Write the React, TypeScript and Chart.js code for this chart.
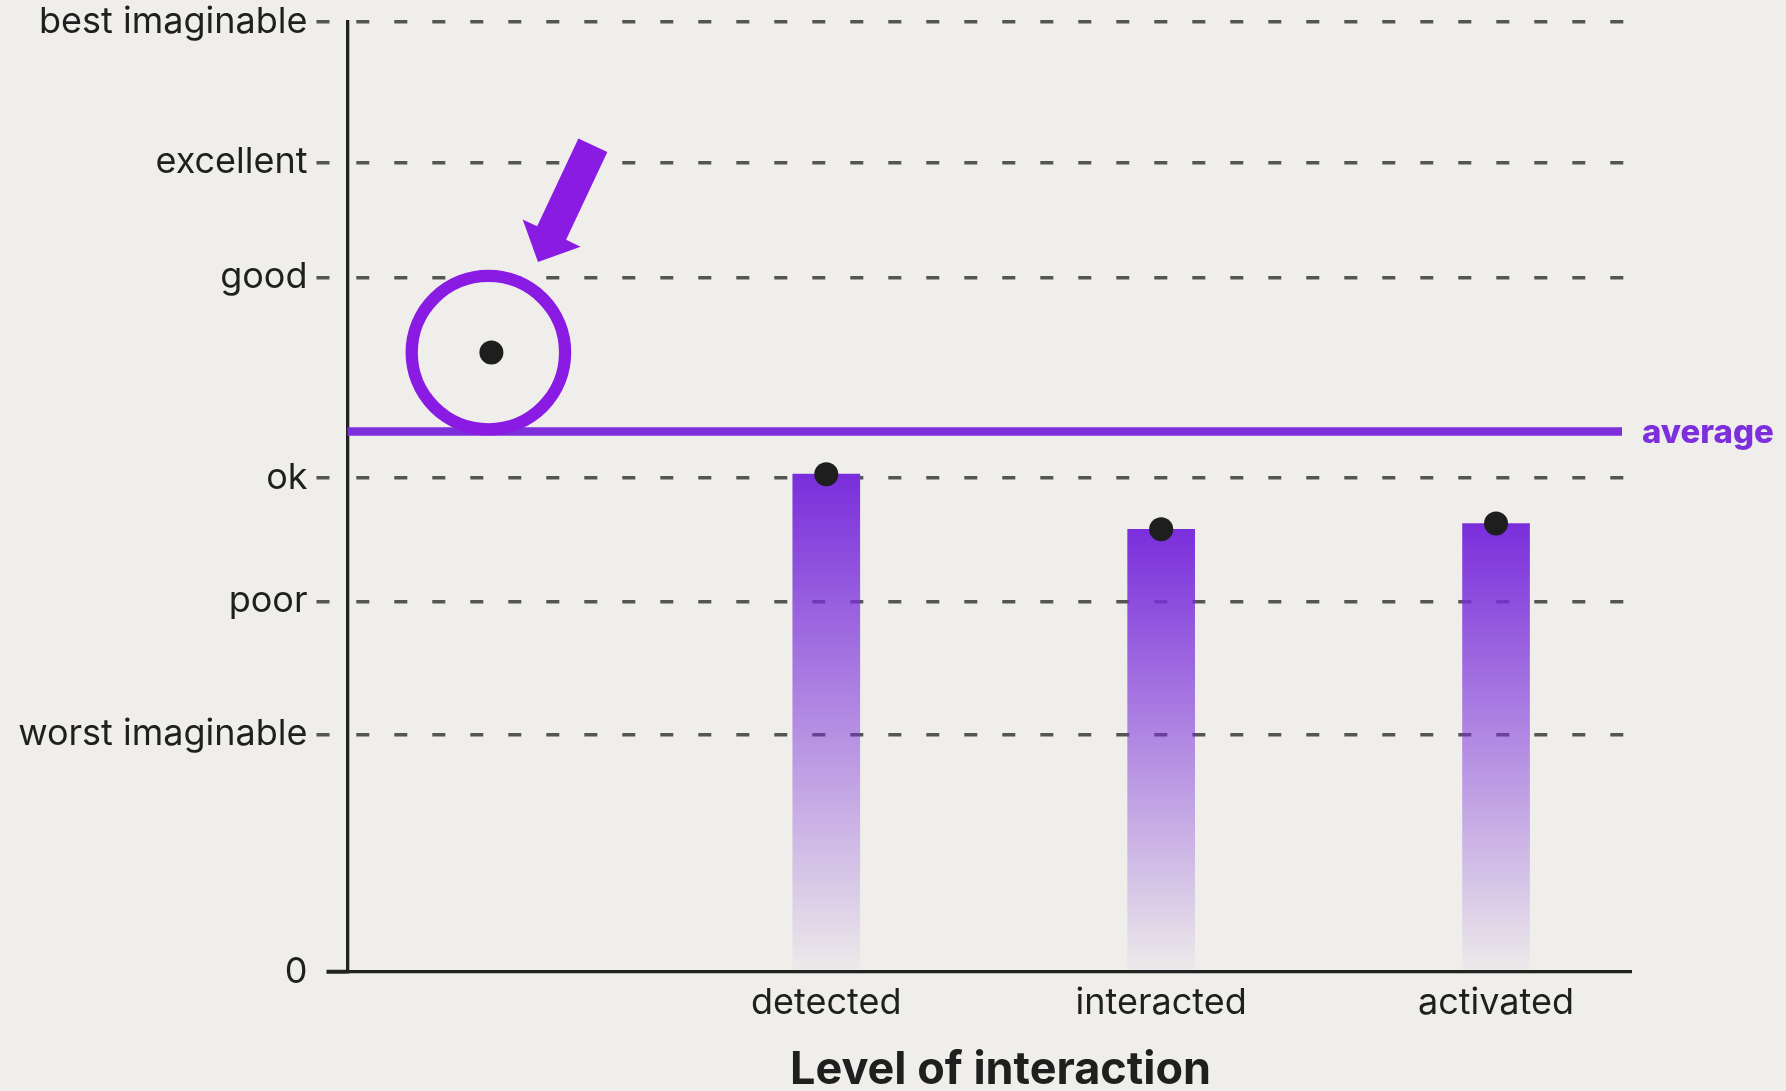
import React, { useEffect, useRef } from 'react';
import { Chart, registerables } from 'chart.js';

Chart.register(...registerables);

// ---- data ----
const categories = ['', 'detected', 'interacted', 'activated'];
const categoryPositions = [0, 1, 2, 3];
const scores = [65.2, 52.4, 46.6, 47.2];
const barScores = [null, 52.4, 46.6, 47.2];
const averageScore = 56.9;
const adjectiveValues = [0, 25, 39, 52, 73.1, 85.2, 100];
const adjectiveLabels = ['0', 'worst imaginable', 'poor', 'ok', 'good', 'excellent', 'best imaginable'];
const highlightIndex = 0;
const axisTitle = 'Level of interaction';
const averageLabel = 'average';

// ---- styles ----
const BG = '#EFEEEA';
const TEXT = '#1f1f1f';
const GRID = '#555555';
const AXIS = '#222222';
const BAR_RGB = '122,46,219';
const AVG_COLOR = '#7E2FDC';
const RING_COLOR = '#8A1BE2';
const DOT = '#1e1e1e';
const FONT = 'Inter';

const bgPlugin = {
  id: 'bgFill',
  beforeDraw(chart: any) {
    const { ctx, width, height } = chart;
    ctx.save();
    ctx.fillStyle = BG;
    ctx.fillRect(0, 0, width, height);
    ctx.restore();
  },
};

const annotationPlugin = {
  id: 'annotations',
  afterDatasetsDraw(chart: any) {
    const { ctx, chartArea } = chart;
    const xs = chart.scales.x;
    const ys = chart.scales.y;
    const ya = ys.getPixelForValue(averageScore);
    ctx.save();
    // average line
    ctx.strokeStyle = AVG_COLOR;
    ctx.lineWidth = 8.5;
    ctx.beginPath();
    ctx.moveTo(chartArea.left, ya);
    ctx.lineTo(chartArea.right - 9, ya);
    ctx.stroke();
    // average label
    ctx.fillStyle = AVG_COLOR;
    ctx.font = `800 33px ${FONT}`;
    ctx.textBaseline = 'middle';
    ctx.textAlign = 'left';
    ctx.fillText(averageLabel, chartArea.right + 11, ya + 2);

    // ring around highlighted point
    const px = xs.getPixelForValue(categoryPositions[highlightIndex]);
    const py = ys.getPixelForValue(scores[highlightIndex]);
    ctx.strokeStyle = RING_COLOR;
    ctx.lineWidth = 12.3;
    ctx.beginPath();
    ctx.arc(px - 3, py, 76.7, 0, Math.PI * 2);
    ctx.stroke();

    // arrow pointing at the ring
    const tip = { x: px + 46.6, y: py - 90.6 };
    const d = { x: -0.4255, y: 0.9046 };
    const n = { x: 0.9046, y: 0.4255 };
    const headLen = 32, headHalf = 32, shaftHalf = 16, total = 129;
    const base = { x: tip.x - d.x * headLen, y: tip.y - d.y * headLen };
    const tail = { x: tip.x - d.x * total, y: tip.y - d.y * total };
    const pts = [
      [tail.x + n.x * shaftHalf, tail.y + n.y * shaftHalf],
      [base.x + n.x * shaftHalf, base.y + n.y * shaftHalf],
      [base.x + n.x * headHalf, base.y + n.y * headHalf],
      [tip.x, tip.y],
      [base.x - n.x * headHalf, base.y - n.y * headHalf],
      [base.x - n.x * shaftHalf, base.y - n.y * shaftHalf],
      [tail.x - n.x * shaftHalf, tail.y - n.y * shaftHalf],
    ];
    ctx.fillStyle = RING_COLOR;
    ctx.beginPath();
    pts.forEach(([x, y], i) => (i === 0 ? ctx.moveTo(x, y) : ctx.lineTo(x, y)));
    ctx.closePath();
    ctx.fill();
    ctx.restore();
  },
};

export default function App() {
  const ref = useRef<HTMLCanvasElement | null>(null);

  useEffect(() => {
    document.body.style.background = BG;
    const canvas = ref.current;
    if (!canvas) return;

    const barData = categoryPositions
      .map((x, i) => ({ x, y: barScores[i] }))
      .filter((p) => p.y !== null);
    const dotData = categoryPositions.map((x, i) => ({ x, y: scores[i] }));

    const chart = new Chart(canvas, {
      type: 'bar',
      data: {
        datasets: [
          {
            type: 'scatter',
            data: dotData,
            pointRadius: 12,
            pointHoverRadius: 12,
            backgroundColor: DOT,
            borderWidth: 0,
            order: 0,
          } as any,
          {
            type: 'bar',
            data: barData as any,
            barThickness: 67,
            borderWidth: 0,
            order: 1,
            backgroundColor: (c: any) => {
              const ch = c.chart;
              if (!ch.chartArea || c.type !== 'data' || !c.parsed) return `rgba(${BAR_RGB},1)`;
              const ys = ch.scales.y;
              const top = ys.getPixelForValue(c.parsed.y);
              const bottom = ys.getPixelForValue(0);
              const g = ch.ctx.createLinearGradient(0, top, 0, bottom);
              g.addColorStop(0, `rgba(${BAR_RGB},1)`);
              g.addColorStop(1, `rgba(${BAR_RGB},0.02)`);
              return g;
            },
          } as any,
        ],
      },
      options: {
        responsive: false,
        animation: false,
        layout: { padding: { left: 0, top: 22, right: 155, bottom: 0 } },
        plugins: {
          legend: { display: false },
          tooltip: { enabled: false },
        },
        scales: {
          x: {
            type: 'linear',
            offset: false,
            min: -0.4297,
            max: 3.403,
            afterBuildTicks: (scale: any) => {
              scale.ticks = categoryPositions.filter((_, i) => categories[i] !== '').map((v) => ({ value: v }));
            },
            afterFit: (scale: any) => {
              scale.height = 119;
              scale.paddingLeft = 0;
              scale.paddingRight = 0;
            },
            grid: { display: false, drawTicks: false },
            border: { display: true, color: AXIS, width: 3.3 },
            ticks: {
              autoSkip: false,
              maxRotation: 0,
              padding: 9.5,
              color: TEXT,
              font: { family: FONT, size: 36 },
              callback: (v: any) => categories[categoryPositions.indexOf(Number(v))] ?? '',
            },
            title: {
              display: true,
              text: '\u2002' + axisTitle,
              color: TEXT,
              font: { family: FONT, size: 45, weight: 'bold', lineHeight: 1 },
              padding: { top: 0, bottom: -1.5 },
            },
          },
          y: {
            type: 'linear',
            min: 0,
            max: 100,
            afterBuildTicks: (scale: any) => {
              scale.ticks = adjectiveValues.map((v) => ({ value: v }));
            },
            afterFit: (scale: any) => {
              scale.width = 347.5;
              scale.paddingTop = 0;
              scale.paddingBottom = 0;
            },
            grid: {
              display: true,
              drawOnChartArea: true,
              drawTicks: true,
              lineWidth: 3.5,
              color: (c: any) => (c.tick && c.tick.value === 0 ? 'rgba(0,0,0,0)' : GRID),
              tickLength: 31,
              tickWidth: (c: any) => (c.tick && c.tick.value === 0 ? 3.8 : 3.5),
              tickColor: (c: any) => (c.tick && c.tick.value === 0 ? AXIS : GRID),
              tickBorderDash: (c: any) => (c.tick && c.tick.value === 0 ? [0, 10, 21, 100] : [13, 100]),
            } as any,
            border: { display: true, color: AXIS, width: 3.3, dash: [13, 25], dashOffset: 31 } as any,
            ticks: {
              autoSkip: false,
              padding: 9,
              color: TEXT,
              font: { family: FONT, size: 36 },
              callback: (_v: any, i: number) => adjectiveLabels[i],
            },
          },
        },
      } as any,
      plugins: [bgPlugin, annotationPlugin],
    });

    return () => chart.destroy();
  }, []);

  return (
    <div style={{ position: 'absolute', left: 0, top: 0, width: 1786, height: 1091, background: BG }}>
      <canvas ref={ref} width={1786} height={1091} style={{ display: 'block', width: 1786, height: 1091 }} />
    </div>
  );
}
